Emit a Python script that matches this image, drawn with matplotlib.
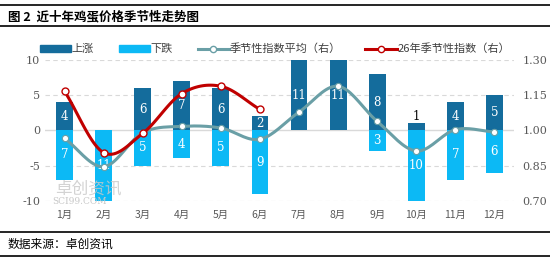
import matplotlib.pyplot as plt
import numpy as np
from matplotlib.lines import Line2D
from matplotlib.patches import Patch

plt.rcParams['font.family'] = ['Noto Sans CJK SC', 'DejaVu Sans']
plt.rcParams['axes.unicode_minus'] = False

months = ["1月", "2月", "3月", "4月", "5月", "6月", "7月", "8月", "9月", "10月", "11月", "12月"]
up_count = [4, 0, 6, 7, 6, 2, 11, 11, 8, 1, 4, 5]
down_count = [7, 11, 5, 4, 5, 9, 0, 0, 3, 10, 7, 6]
avg_index = [0.966, 0.845, 0.99, 1.017, 1.01, 0.962, 1.078, 1.188, 1.038, 0.912, 1.003, 0.993]
idx_2026 = [1.167, 0.905, 0.987, 1.157, 1.188, 1.089]

c_up = '#146C9C'
c_down = '#0CB9F5'
c_avg = '#6A9FA6'
c_red = '#C00000'
grey = '#595959'
num_font = 'DejaVu Serif'


def smooth(x, y, n=20):
    # catmull-rom style smoothing, like the office chart's smoothed line
    x = np.asarray(x, float)
    y = np.asarray(y, float)
    px = np.concatenate([[2 * x[0] - x[1]], x, [2 * x[-1] - x[-2]]])
    py = np.concatenate([[2 * y[0] - y[1]], y, [2 * y[-1] - y[-2]]])
    xs, ys = [], []
    t = np.linspace(0, 1, n)
    for i in range(1, len(px) - 2):
        p0, p1, p2, p3 = py[i - 1], py[i], py[i + 1], py[i + 2]
        ys.append(0.5 * (2 * p1 + (-p0 + p2) * t + (2 * p0 - 5 * p1 + 4 * p2 - p3) * t ** 2
                         + (-p0 + 3 * p1 - 3 * p2 + p3) * t ** 3))
        xs.append(px[i] + (px[i + 1] - px[i]) * t)
    return np.concatenate(xs), np.concatenate(ys)


fig = plt.figure(figsize=(5.5, 2.57), dpi=100)
ax = fig.add_axes([45 / 550, 1 - 200.7 / 257, (514 - 45) / 550, (200.7 - 60) / 257])

x = np.arange(len(months))
w = 0.43
up = np.array(up_count)
down = -np.array(down_count)
ax.bar(x, up, w, color=c_up, zorder=2)
ax.bar(x, down, w, color=c_down, zorder=2)
ax.set_ylim(-10, 10)
ax.set_xlim(-0.5, len(months) - 0.5)
ax.set_yticks([-10, -5, 0, 5, 10])
for v in [-10, -5, 5, 10]:
    ax.axhline(v, color='#D9D9D9', lw=0.8, ls=(0, (4, 3)), zorder=0)
ax.axhline(0, color='#D9D9D9', lw=1.0, zorder=1)

for i in range(len(months)):
    u = up_count[i]
    d = down_count[i]
    if u >= 2:
        ax.text(x[i], min(u, 10) / 2, str(u), color='white', ha='center', va='center',
                fontsize=8.5, family=num_font, zorder=5)
    elif u > 0:
        ax.text(x[i], u + 0.1, str(u), color='black', ha='center', va='bottom',
                fontsize=8.5, family=num_font, zorder=5)
    if d > 0:
        ax.text(x[i], -min(d, 10) / 2, str(d), color='white', ha='center', va='center',
                fontsize=8.5, family=num_font, zorder=5)

ax.set_xticks(x)
ax.set_xticklabels(months, fontsize=7.5, color=grey)
ax.tick_params(axis='both', length=0)
ax.tick_params(axis='x', pad=7)
for lab in ax.get_yticklabels():
    lab.set_family(num_font)
    lab.set_fontsize(8)
    lab.set_color(grey)
for s in ax.spines.values():
    s.set_visible(False)

ax2 = ax.twinx()
ax2.set_ylim(0.70, 1.30)
ax2.set_yticks([0.70, 0.85, 1.00, 1.15, 1.30])
ax2.set_yticklabels(['0.70', '0.85', '1.00', '1.15', '1.30'])
for lab in ax2.get_yticklabels():
    lab.set_family(num_font)
    lab.set_fontsize(8)
    lab.set_color(grey)
ax2.tick_params(axis='y', length=0, pad=6)
for s in ax2.spines.values():
    s.set_visible(False)

sx, sy = smooth(x, avg_index)
ax2.plot(sx, sy, color=c_avg, lw=2.2, zorder=3)
ax2.plot(x, avg_index, 'o', color='white', ms=4.5, mec=c_avg, mew=0.8, zorder=4)
rx, ry = smooth(x[:len(idx_2026)], idx_2026)
ax2.plot(rx, ry, color=c_red, lw=2.2, zorder=5)
ax2.plot(x[:len(idx_2026)], idx_2026, 'o', color='white', ms=5, mec=c_red, mew=1.0, zorder=6)

# legend proxies
handles = [Patch(color=c_up), Patch(color=c_down),
           Line2D([], [], color=c_avg, lw=2.2, marker='o', mfc='white', mec=c_avg, ms=4.5),
           Line2D([], [], color=c_red, lw=2.2, marker='o', mfc='white', mec=c_red, ms=4.5)]
labels = ['上涨', '下跌', '季节性指数平均（右）', '26年季节性指数（右）']
fig.legend(handles, labels, loc='center', bbox_to_anchor=(0.5, 1 - 49 / 257), ncol=4,
           frameon=False, fontsize=8, handlelength=2.8, handleheight=0.6, columnspacing=2.2,
           handletextpad=0.1, labelcolor='#404040')

# watermark
fig.text(55 / 550, 1 - 189 / 257, '卓创资讯', fontsize=12, color='#C8C8C8', alpha=0.8,
         va='center', zorder=0)
fig.text(52 / 550, 1 - 201 / 257, 'SCI99.COM', fontsize=6.5, color='#C8C8C8',
         family='DejaVu Serif', va='center', zorder=0)

# title and footer with rules
fig.text(8 / 550, 1 - 17 / 257, '图 2  近十年鸡蛋价格季节性走势图', fontsize=9, fontweight='bold',
         va='center', color='black')
fig.text(8 / 550, 1 - 244 / 257, '数据来源：卓创资讯', fontsize=8.5, va='center', color='black')
for yy in [5, 26, 232, 255.5]:
    fig.add_artist(Line2D([0, 1], [1 - yy / 257, 1 - yy / 257], color='black', lw=1.2,
                          transform=fig.transFigure))

fig.savefig('out.png', dpi=100)
